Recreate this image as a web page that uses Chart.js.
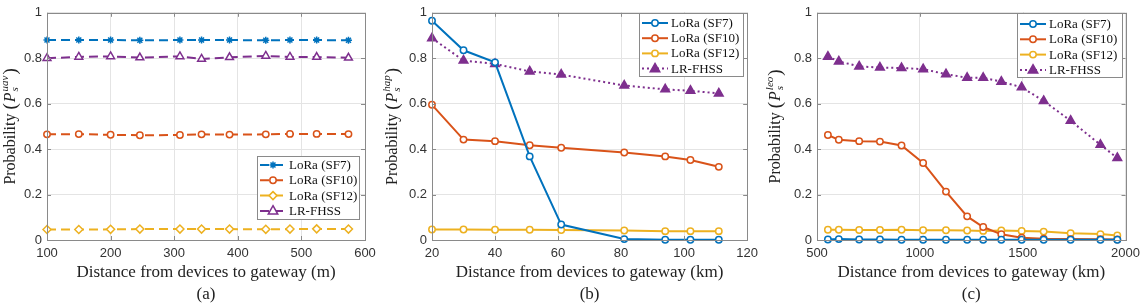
<!DOCTYPE html>
<html><head><meta charset="utf-8">
<script src="https://cdn.jsdelivr.net/npm/chart.js@4.4.1/dist/chart.umd.min.js"></script>
<style>
html,body{margin:0;padding:0;background:#fff;}
#wrap{position:relative;width:1146px;height:307px;overflow:hidden;}
canvas{position:absolute;top:0;}
</style></head><body>
<div id="wrap">
<canvas id="ca" width="382" height="307" style="left:0px"></canvas>
<canvas id="cb" width="382" height="307" style="left:382px"></canvas>
<canvas id="cc" width="382" height="307" style="left:764px"></canvas>
</div>
<script>
// ---------------- data ----------------
const seriesNames = ['LoRa (SF7)', 'LoRa (SF10)', 'LoRa (SF12)', 'LR-FHSS'];
const yTicks = [0, 0.2, 0.4, 0.6, 0.8, 1];
const yTickLabels = ['0', '0.2', '0.4', '0.6', '0.8', '1'];

// (a) UAV
const xA = [100, 150, 200, 246, 309, 343, 387, 444, 482, 524, 574];
const aSF7 = [0.880, 0.880, 0.880, 0.879, 0.880, 0.880, 0.880, 0.879, 0.880, 0.880, 0.879];
const aSF10 = [0.465, 0.466, 0.463, 0.461, 0.462, 0.465, 0.464, 0.465, 0.467, 0.467, 0.466];
const aSF12 = [0.046, 0.046, 0.047, 0.048, 0.048, 0.048, 0.048, 0.047, 0.048, 0.049, 0.048];
const aFHSS = [0.800, 0.806, 0.808, 0.803, 0.808, 0.797, 0.804, 0.810, 0.806, 0.805, 0.802];
const xTicksA = [100, 200, 300, 400, 500, 600];

// (b) HAP
const xB = [20, 30, 40, 51, 61, 81, 94, 102, 111];
const bSF7 = [0.965, 0.835, 0.782, 0.368, 0.068, 0.004, 0.001, 0.001, 0.001];
const bSF10 = [0.595, 0.442, 0.435, 0.417, 0.406, 0.385, 0.368, 0.352, 0.322];
const bSF12 = [0.046, 0.046, 0.045, 0.045, 0.044, 0.042, 0.039, 0.039, 0.039];
const bFHSS = [0.888, 0.790, 0.775, 0.742, 0.728, 0.680, 0.663, 0.657, 0.645];
const xTicksB = [20, 40, 60, 80, 100, 120];

// (c) LEO
const xC = [553, 606, 705, 806, 911, 1016, 1127, 1230, 1308, 1396, 1495, 1602, 1733, 1878, 1960];
const cSF7 = [0.002, 0.004, 0.002, 0.002, 0.001, 0.001, 0.001, 0.001, 0.001, 0.001, 0.001, 0.001, 0.001, 0.001, 0.001];
const cSF10 = [0.462, 0.441, 0.435, 0.433, 0.416, 0.339, 0.213, 0.104, 0.057, 0.025, 0.010, 0.006, 0.004, 0.003, 0.002];
const cSF12 = [0.045, 0.045, 0.044, 0.044, 0.045, 0.043, 0.043, 0.042, 0.040, 0.042, 0.040, 0.037, 0.030, 0.026, 0.020];
const cFHSS = [0.807, 0.786, 0.764, 0.759, 0.757, 0.752, 0.730, 0.714, 0.714, 0.697, 0.672, 0.612, 0.525, 0.419, 0.361];
const xTicksC = [500, 1000, 1500, 2000];

const xTitles = ['Distance from devices to gateway (m)', 'Distance from devices to gateway (km)', 'Distance from devices to gateway (km)'];
const panelLabels = ['(a)', '(b)', '(c)'];
const ySups = ['uav', 'hap', 'leo'];

// ---------------- styling ----------------
const COLORS = ['#0072BD', '#D95319', '#EDB120', '#7E2F8E'];
const SERIF = '"Liberation Serif", "Times New Roman", serif';
const SANS = '"Liberation Sans", Arial, sans-serif';
const BOX = '#8a8a8a';

function drawMarker(ctx, style, x, y, r, fill, stroke, lw) {
  ctx.save();
  ctx.lineWidth = lw; ctx.strokeStyle = stroke; ctx.fillStyle = fill;
  ctx.setLineDash([]);
  ctx.beginPath();
  if (style === 'circle') {
    ctx.arc(x, y, r, 0, Math.PI * 2);
    ctx.fill(); ctx.stroke();
  } else if (style === 'triangle') {
    const h = r * 1.5;
    ctx.moveTo(x, y - r * 1.15);
    ctx.lineTo(x + r * 1.05, y + r * 0.7);
    ctx.lineTo(x - r * 1.05, y + r * 0.7);
    ctx.closePath(); ctx.fill(); ctx.stroke();
  } else if (style === 'rectRot') {
    ctx.moveTo(x, y - r); ctx.lineTo(x + r, y); ctx.lineTo(x, y + r); ctx.lineTo(x - r, y);
    ctx.closePath(); ctx.fill(); ctx.stroke();
  } else if (style === 'star') {
    for (let k = 0; k < 4; k++) {
      const a = k * Math.PI / 4;
      ctx.moveTo(x - Math.cos(a) * r, y - Math.sin(a) * r);
      ctx.lineTo(x + Math.cos(a) * r, y + Math.sin(a) * r);
    }
    ctx.stroke();
  }
  ctx.restore();
}

function makeDatasets(xs, series, panelStyle) {
  return series.map((ys, i) => {
    const pts = xs.map((x, j) => ({ x: x, y: ys[j] }));
    let ds = {
      label: seriesNames[i], data: pts, borderColor: COLORS[i], backgroundColor: COLORS[i],
      borderWidth: 2, pointBorderColor: COLORS[i], pointBorderWidth: 1.5, clip: false, tension: 0
    };
    if (panelStyle === 'a') {
      ds.borderDash = [9, 5];
      ds.pointStyle = ['star', 'circle', 'rectRot', 'triangle'][i];
      ds.pointRadius = [3.5, 3.2, 4, 4.5][i];
      ds.pointBackgroundColor = '#ffffff';
      ds.mk = { style: ds.pointStyle, r: ds.pointRadius, fill: '#ffffff' };
    } else {
      if (i < 3) {
        ds.pointStyle = 'circle'; ds.pointRadius = 3.2; ds.pointBackgroundColor = '#ffffff';
        ds.mk = { style: 'circle', r: 3.2, fill: '#ffffff' };
      } else {
        ds.borderDash = [2, 3];
        ds.pointStyle = 'triangle'; ds.pointRadius = 5; ds.pointBackgroundColor = COLORS[i];
        ds.mk = { style: 'triangle', r: 4.5, fill: COLORS[i] };
      }
    }
    ds.pointHoverRadius = ds.pointRadius;
    return ds;
  });
}

const decorPlugin = {
  id: 'decor',
  afterDraw(chart, args, o) {
    const ctx = chart.ctx, a = chart.chartArea;
    const xs = chart.scales.x, ys = chart.scales.y;
    ctx.save();
    // box
    ctx.strokeStyle = BOX; ctx.lineWidth = 1; ctx.setLineDash([]);
    ctx.strokeRect(Math.round(a.left) + 0.5, Math.round(a.top) + 0.5, Math.round(a.right - a.left), Math.round(a.bottom - a.top));
    // inward ticks
    ctx.beginPath();
    xs.ticks.forEach(t => {
      const p = Math.round(xs.getPixelForValue(t.value)) + 0.5;
      ctx.moveTo(p, a.bottom); ctx.lineTo(p, a.bottom - 4);
      ctx.moveTo(p, a.top); ctx.lineTo(p, a.top + 4);
    });
    ys.ticks.forEach(t => {
      const p = Math.round(ys.getPixelForValue(t.value)) + 0.5;
      ctx.moveTo(a.left, p); ctx.lineTo(a.left + 4, p);
      ctx.moveTo(a.right, p); ctx.lineTo(a.right - 4, p);
    });
    ctx.stroke();

    // x title & panel label
    const cx = (a.left + a.right) / 2;
    ctx.fillStyle = '#222';
    ctx.textAlign = 'center'; ctx.textBaseline = 'alphabetic';
    ctx.font = '17px ' + SERIF;
    ctx.fillText(o.xTitle, cx, 277);
    ctx.font = '17px ' + SERIF;
    ctx.fillText(o.label, cx, 299);

    // y title (rotated) with stacked sub/superscript
    ctx.save();
    ctx.translate(o.yTitleX, (a.top + a.bottom) / 2);
    ctx.rotate(-Math.PI / 2);
    const fBase = '16px ' + SERIF, fIt = 'italic 16px ' + SERIF, fSm = 'italic 11px ' + SERIF, fPar = '19px ' + SERIF;
    ctx.font = fBase; const w1 = ctx.measureText('Probability ').width;
    ctx.font = fPar; const wp1 = ctx.measureText('(').width; const wp2 = ctx.measureText(')').width;
    ctx.font = fIt; const wP = ctx.measureText('P').width;
    ctx.font = fSm; const wSup = ctx.measureText(o.sup).width; const wSub = ctx.measureText('s').width;
    const total = w1 + wp1 + 1 + wP + 1 + Math.max(wSup, wSub) + 1 + wp2;
    let x = -total / 2; const base = 5;
    ctx.textAlign = 'left';
    ctx.font = fBase; ctx.fillText('Probability ', x, base); x += w1;
    ctx.font = fPar; ctx.fillText('(', x, base + 1); x += wp1 + 1;
    ctx.font = fIt; ctx.fillText('P', x, base); x += wP + 1;
    ctx.font = fSm; ctx.fillText(o.sup, x, base - 7); ctx.fillText('s', x, base + 3);
    x += Math.max(wSup, wSub) + 1;
    ctx.font = fPar; ctx.fillText(')', x, base + 1);
    ctx.restore();

    // legend
    const L = o.legend;
    ctx.fillStyle = '#ffffff';
    ctx.fillRect(L.x, L.y, L.w, L.h);
    ctx.strokeStyle = BOX; ctx.lineWidth = 1;
    ctx.strokeRect(L.x + 0.5, L.y + 0.5, L.w, L.h);
    chart.data.datasets.forEach((ds, i) => {
      const ry = L.y + L.first + i * L.gap;
      const sx = L.x + 3, len = 26;
      ctx.save();
      ctx.strokeStyle = ds.borderColor; ctx.lineWidth = ds.borderWidth;
      ctx.setLineDash(ds.borderDash || []);
      ctx.beginPath(); ctx.moveTo(sx, ry); ctx.lineTo(sx + len, ry); ctx.stroke();
      ctx.restore();
      drawMarker(ctx, ds.mk.style, sx + len / 2, ry, ds.mk.r, ds.mk.fill, ds.borderColor, 1.5);
      ctx.fillStyle = '#111';
      ctx.font = '13px ' + SERIF; ctx.textAlign = 'left'; ctx.textBaseline = 'middle';
      ctx.fillText(ds.label, sx + len + 3, ry + 0.5);
    });
    ctx.restore();
  }
};

function makeChart(id, xs, series, panelStyle, xMin, xMax, xTicks, idx, yAxisW, padR, legend, yTitleX) {
  return new Chart(document.getElementById(id), {
    type: 'line',
    data: { datasets: makeDatasets(xs, series, panelStyle) },
    plugins: [decorPlugin],
    options: {
      responsive: false, animation: false, devicePixelRatio: 1,
      layout: { padding: { left: 0, right: padR, top: 9, bottom: 0 } },
      plugins: {
        legend: { display: false }, tooltip: { enabled: false },
        decor: { xTitle: xTitles[idx], label: panelLabels[idx], sup: ySups[idx], legend: legend, yTitleX: yTitleX }
      },
      scales: {
        x: {
          type: 'linear', min: xMin, max: xMax,
          afterBuildTicks: s => { s.ticks = xTicks.map(v => ({ value: v })); },
          afterFit: s => { s.height = 67; },
          grid: { color: '#e4e4e4', drawTicks: false, lineWidth: 1 },
          border: { display: false },
          ticks: { padding: 6, color: '#333', font: { family: SANS, size: 13 }, maxRotation: 0, autoSkip: false,
                   callback: v => String(v) }
        },
        y: {
          type: 'linear', min: 0, max: 1,
          afterBuildTicks: s => { s.ticks = yTicks.map(v => ({ value: v })); },
          afterFit: s => { s.width = yAxisW; },
          grid: { color: '#e4e4e4', drawTicks: false, lineWidth: 1 },
          border: { display: false },
          ticks: { padding: 5, color: '#333', font: { family: SANS, size: 13 },
                   callback: v => yTickLabels[yTicks.indexOf(Math.round(v * 10) / 10)] }
        }
      }
    }
  });
}

makeChart('ca', xA, [aSF7, aSF10, aSF12, aFHSS], 'a', 100, 600, xTicksA, 0, 47, 17,
  { x: 257, y: 156, w: 102, h: 63, first: 9, gap: 15.3 }, 10);
makeChart('cb', xB, [bSF7, bSF10, bSF12, bFHSS], 'b', 20, 120, xTicksB, 1, 50, 16,
  { x: 257, y: 13, w: 104, h: 63, first: 10, gap: 15.2 }, 10);
makeChart('cc', xC, [cSF7, cSF10, cSF12, cFHSS], 'c', 500, 2000, xTicksC, 2, 53, 17,
  { x: 253, y: 13, w: 105, h: 64, first: 11, gap: 15.3 }, 11);
</script>
</body></html>
